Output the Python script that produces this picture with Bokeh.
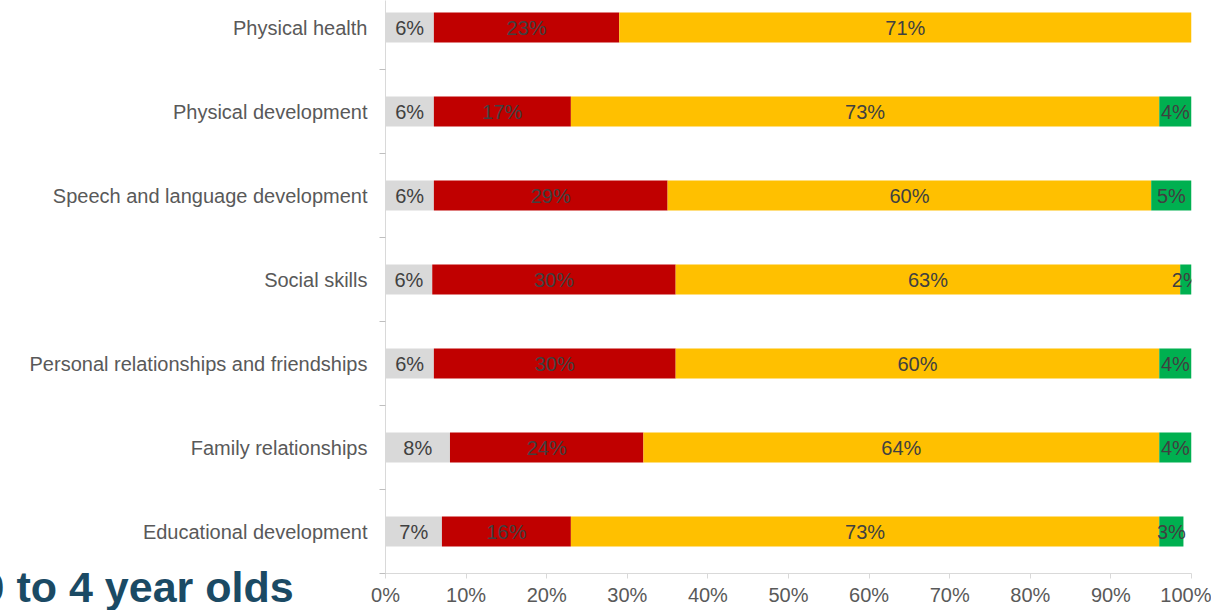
from bokeh.plotting import figure
from bokeh.models import Range1d, FixedTicker, Label, ColumnDataSource
from bokeh.core.properties import value
from bokeh.embed import file_html
from bokeh.resources import INLINE

# ---- data (top to bottom as in the chart) ----
categories = [
    "Physical health",
    "Physical development",
    "Speech and language development",
    "Social skills",
    "Personal relationships and friendships",
    "Family relationships",
    "Educational development",
]
grey_vals = [6, 6, 6, 5.8, 6, 8, 7]
red_vals = [23, 17, 29, 30.2, 30, 24, 16]
gold_vals = [71, 73, 60, 62.6, 60, 64, 73]
green_vals = [0, 4, 5, 1.5, 4, 4, 3]
x_ticks = [0, 10, 20, 30, 40, 50, 60, 70, 80, 90, 100]
x_tick_labels = ["0%", "10%", "20%", "30%", "40%", "50%", "60%", "70%", "80%", "90%", "100%"]
series_colors = ["#D9D9D9", "#C00000", "#FFC000", "#00B050"]
title_text = "0 to 4 year olds"

FONT = "Liberation Sans"
n = len(categories)
ys = [n - 1 - i for i in range(n)]

FRAME_H = 573
p = figure(
    frame_width=806, frame_height=FRAME_H,
    x_range=Range1d(0, 100), y_range=Range1d(-0.5, -0.5 + FRAME_H / 84),
    output_backend="svg", toolbar_location=None,
    min_border_left=385, min_border_right=20, min_border_top=0, min_border_bottom=0,
)
p.outline_line_color = None
p.grid.visible = False
p.background_fill_color = "white"

series = [grey_vals, red_vals, gold_vals, green_vals]
left = [0.0] * n
for vals, col in zip(series, series_colors):
    right = [l + v for l, v in zip(left, vals)]
    src = ColumnDataSource(dict(y=ys, left=left, right=right))
    p.hbar(y="y", left="left", right="right", height=0.36, source=src,
           fill_color=col, line_color=None)
    tx, ty, tt = [], [], []
    for l, v, y in zip(left, vals, ys):
        if v > 0:
            tx.append(l + v / 2)
            ty.append(y)
            tt.append(f"{round(v)}%")
    lsrc = ColumnDataSource(dict(x=tx, y=ty, t=tt))
    p.text(x="x", y="y", text="t", source=lsrc, text_align="center",
           text_baseline="middle", text_font=value(FONT),
           text_font_size="20px", text_color="#404040")
    left = right

# x axis
p.xaxis.ticker = FixedTicker(ticks=x_ticks)
p.xaxis.major_label_overrides = {t: s for t, s in zip(x_ticks, x_tick_labels)}
p.xaxis.axis_line_color = "#D9D9D9"
p.xaxis.major_tick_line_color = "#D9D9D9"
p.xaxis.major_tick_out = 5
p.xaxis.major_tick_in = 0
p.xaxis.minor_tick_line_color = None
p.xaxis.major_label_standoff = 5
p.xaxis.major_label_text_font = FONT
p.xaxis.major_label_text_font_size = "20px"
p.xaxis.major_label_text_color = "#595959"

# y axis
p.yaxis.ticker = FixedTicker(ticks=ys, minor_ticks=[-0.5 + i for i in range(n + 1)])
p.yaxis.major_label_overrides = {y: c for y, c in zip(ys, categories)}
p.yaxis.axis_line_color = "#D9D9D9"
p.yaxis.major_tick_out = 0
p.yaxis.major_tick_in = 0
p.yaxis.major_tick_line_color = None
p.yaxis.minor_tick_out = 6
p.yaxis.minor_tick_in = 0
p.yaxis.minor_tick_line_color = "#BFBFBF"
p.yaxis.major_label_standoff = 12
p.yaxis.major_label_text_font = FONT
p.yaxis.major_label_text_font_size = "20px"
p.yaxis.major_label_text_color = "#595959"

# title in a side panel so it is not clipped to the plot frame
title = Label(x=-11.4, y=-0.666, text=title_text, text_align="right",
              text_baseline="alphabetic", text_font=FONT,
              text_font_size="43px", text_font_style="bold",
              text_color="#1B4A64")
p.add_layout(title, "below")

open("out.html", "w").write(file_html(p, INLINE))
